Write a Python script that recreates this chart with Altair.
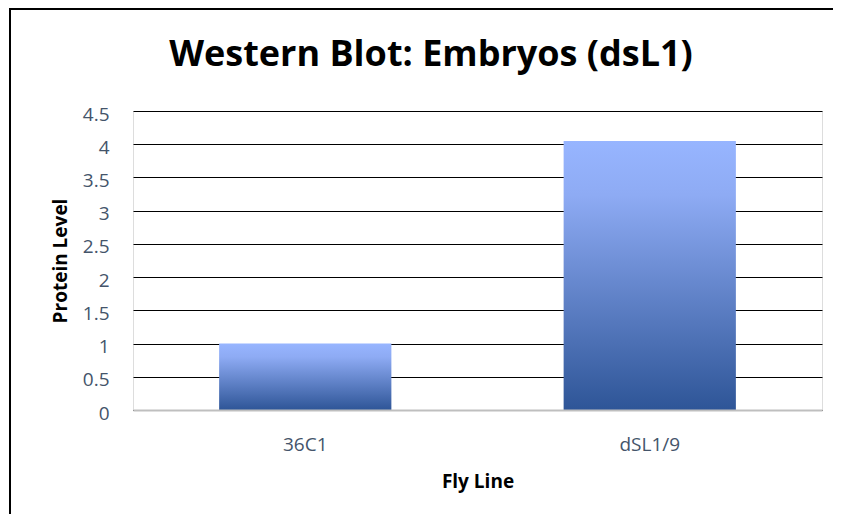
import altair as alt
import pandas as pd

# ---- data ----
categories = ["36C1", "dSL1/9"]
protein_levels = [1.0, 4.05]
y_ticks = [0, 0.5, 1, 1.5, 2, 2.5, 3, 3.5, 4, 4.5]
title_text = "Western Blot: Embryos (dsL1)"
x_title = "Fly Line"
y_title = "Protein Level"

df = pd.DataFrame({"Fly Line": categories, "Protein Level": protein_levels})
one = pd.DataFrame({"k": [0]})

W, H = 689, 299
PAD = {"left": 125, "top": 103, "right": 11, "bottom": 104}
label_color = "#44546A"

gradient = alt.Gradient(
    gradient="linear",
    stops=[
        alt.GradientStop(color="#97B5FF", offset=0),
        alt.GradientStop(color="#8EABF4", offset=0.2),
        alt.GradientStop(color="#2E5597", offset=1),
    ],
    x1=0, x2=0, y1=0, y2=1,
)

bars = alt.Chart(df).mark_bar(color=gradient).encode(
    x=alt.X(
        "Fly Line:N",
        sort=categories,
        scale=alt.Scale(paddingInner=0.5, paddingOuter=0.25),
        axis=alt.Axis(
            title=x_title, labelAngle=0, ticks=False, tickSize=0, labelPadding=25,
            labelFontSize=19, labelColor=label_color, labelFont="Open Sans",
            domainColor="#BFBFBF", domainWidth=2, grid=False, zindex=1,
            titleFontSize=19, titleFontWeight="bold", titleColor="black",
            titleFont="Open Sans", titleY=77, titleBaseline="alphabetic",
        ),
    ),
    y=alt.Y(
        "Protein Level:Q",
        scale=alt.Scale(domain=[0, 4.5], nice=False),
        axis=alt.Axis(
            values=y_ticks, format="~g", title=y_title, ticks=False, tickSize=0,
            labelPadding=24, labelOffset=3, domain=False, grid=True,
            gridColor="black", gridWidth=1, labelFontSize=19,
            labelColor=label_color, labelFont="Open Sans",
            titleX=-67, titleY=H / 2, titleAngle=270, titleBaseline="alphabetic",
            titleAlign="center", titleFontSize=19, titleFontWeight="bold",
            titleColor="black", titleFont="Open Sans",
        ),
    ),
)

frame_left = alt.Chart(one).mark_rule(color="black", strokeWidth=2).encode(
    x=alt.value(-123), y=alt.value(-102), y2=alt.value(H + PAD["bottom"])
)
frame_top = alt.Chart(one).mark_rule(color="black", strokeWidth=2).encode(
    x=alt.value(-124), x2=alt.value(W + PAD["right"]), y=alt.value(-102)
)

chart = (
    alt.layer(bars, frame_left, frame_top)
    .properties(
        width=W,
        height=H,
        autosize=alt.AutoSizeParams(type="none"),
        padding=PAD,
        title=alt.TitleParams(
            title_text, fontSize=36, fontWeight="bold", color="black",
            font="Open Sans", anchor="middle", frame="group", dx=-46.5,
            baseline="alphabetic", offset=0, dy=94,
        ),
    )
    .configure_view(stroke="black", strokeWidth=1)
    .configure(background="white")
)

chart.save("out.html", embed_options={"renderer": "svg", "actions": False})
